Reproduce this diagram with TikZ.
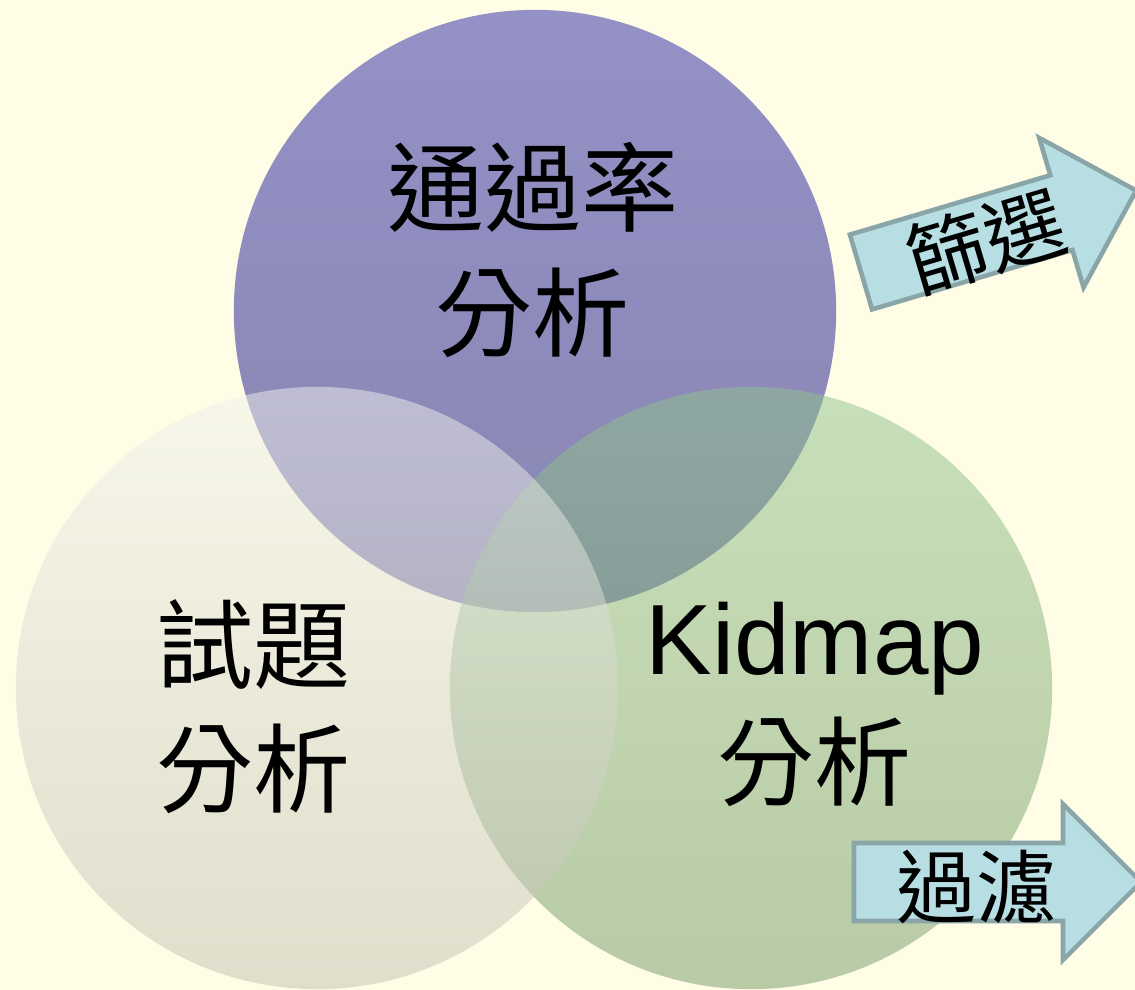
\documentclass[tikz,border=0pt]{standalone}
\usepackage{fontspec}
\setmainfont{Liberation Sans}
\newfontfamily\cjk{Noto Sans CJK TC}
\definecolor{bg}{RGB}{255,253,230}
\definecolor{topA}{RGB}{147,145,198}
\definecolor{topB}{RGB}{137,134,178}
\definecolor{kidA}{RGB}{145,196,142}
\definecolor{kidB}{RGB}{115,152,104}
\definecolor{itemA}{RGB}{240,241,238}
\definecolor{itemB}{RGB}{194,193,178}
\definecolor{arrfill}{RGB}{183,223,227}
\definecolor{arrline}{RGB}{137,165,168}
\begin{document}
\begin{tikzpicture}[x=0.01cm,y=-0.01cm]
\tikzset{circ/.style={circle,minimum size=6.02cm,inner sep=0pt}}
\tikzstyle{lbl}=[align=center,font=\cjk\fontsize{27.6}{35.3}\selectfont]
\tikzstyle{atxt}=[font=\cjk\fontsize{22.8}{26}\selectfont]
\tikzstyle{arr}=[draw=arrline,fill=arrfill,line width=1.3pt,line join=miter]
\fill[bg] (0,0) rectangle (1135,990);
\useasboundingbox (0,0) rectangle (1135,990);
% circles
\node[circ,top color=topA,bottom color=topB] (pass)at(535,311){};
\node[circ,top color=kidA,bottom color=kidB,fill opacity=0.5] (kid)at(751,688){};
\node[circ,top color=itemA,bottom color=itemB,fill opacity=0.5] (item)at(317,688){};
% arrows
\begin{scope}[shift={(861,272)},rotate=16.5]
\draw[arr] (0,-39)--(209,-39)--(209,-78)--(287,0)--(209,78)--(209,39)--(0,39)--cycle;
\node[atxt,transform shape] (sift)at(128,6){篩選};
\end{scope}
\draw[arr] (854,843)--(1063,843)--(1063,804)--(1141,882)--(1063,960)--(1063,921)--(854,921)--cycle;
\node[atxt] (filt)at(977,887){過濾};
% labels
\node[lbl] (passtxt)at(533,250){通過率\\分析};
\node[lbl] (itemtxt)at(254,707){試題\\分析};
\node[lbl] (kidtxt)at(815,704){{\rmfamily\fontsize{28.4}{35.3}\selectfont Kidmap}\\分析};
\end{tikzpicture}
\end{document}
